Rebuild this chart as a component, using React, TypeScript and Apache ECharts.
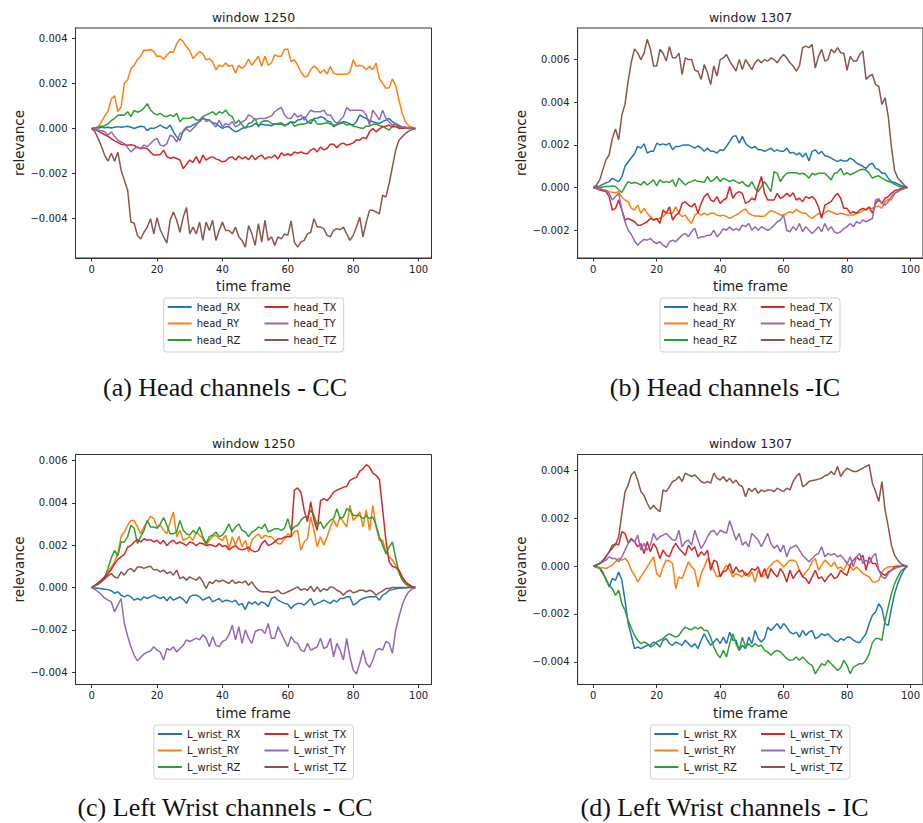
import React, { useEffect, useRef } from "react";
import * as echarts from "echarts";

// ---- values in units of 1e-3 (relevance), frames 0..99 ----
// (a) Head channels - CC (window 1250)
const aRX = [0,0.01,0.02,0.05,0.03,0.05,0.02,0.05,0.08,0.05, 0.07,0.1,0.05,0,0.05,0.1,0.08,-0.1,0.02,0, 0.07,0.15,0.05,0,0.15,-0.15,-0.37,-0.52,-0.1,0.05, 0.07,0.15,0.22,0.3,0.44,0.4,0.37,0.25,0.22,0.1, 0,0.07,0.07,-0.05,-0.15,-0.1,0,0.05,0.07,0.1, 0.22,0.15,0.19,0.15,0.15,0.12,0.19,0.22,0.25,0.15, 0.18,0.3,0.25,0.37,0.4,0.52,0.3,0.22,0.44,0.45, 0.52,0.48,0.33,0.3,0.07,0.18,0.25,0.3,0.27,0.2, 0.15,0.3,0.6,0.5,0.44,0.35,0.3,0.25,0.22,0.3, 0.37,0.44,0.3,0.19,0.1,0.07,0.03,0.01,0,0];
const aRY = [0,0.02,0.05,0.3,0.55,0.75,1.3,1.45,0.75,0.95, 2.0,2.15,2.65,2.8,3.05,3.2,3.48,3.45,3.5,3.4, 3.2,3.2,3.07,3.25,3.4,3.38,3.75,3.97,3.85,3.62, 3.45,3.1,3.26,3.4,3.3,3.04,3.1,2.95,2.6,2.8, 2.74,2.9,2.75,2.8,2.45,2.8,2.65,2.8,3.07,2.8, 3.0,3.2,2.75,3.2,2.8,2.9,3.26,3.2,3.2,3.5, 3.52,2.96,3.05,2.8,2.5,2.3,2.3,2.6,2.77,2.65, 2.44,2.6,2.42,2.74,2.45,2.4,2.4,2.4,2.4,2.5, 3.04,2.75,2.8,2.75,2.6,2.75,2.6,2.9,2.2,2.0, 1.78,1.8,2.2,1.9,1.26,0.67,0.3,0.1,0.05,0];
const aRZ = [0,0.02,0.06,0.1,0.12,0.2,0.35,0.45,0.58,0.6, 0.58,0.74,0.52,0.8,0.72,0.78,0.9,1.1,0.82,0.67, 0.6,0.67,0.55,0.52,0.6,0.52,0.67,0.3,0.45,0.44, 0.45,0.52,0.38,0.36,0.52,0.6,0.66,0.74,0.6,0.74, 0.67,0.81,0.6,0.52,0.22,0.37,0.15,0,0.22,0.27, 0.44,0.07,0.3,0.34,0.33,0.22,0.2,0.19,0.2,0.1, 0.22,0.3,0.1,0.15,0.2,0.19,0.25,0.37,0.4,0.2, 0.19,0.22,0.25,0.2,0.15,0.15,0.22,0.25,0.15,0.19, 0.1,0.07,0.03,0,0.1,0.1,0.18,0.2,0.12,0.1, 0,-0.07,0.1,0.19,0,0.02,0.01,0,0,0];
const aTX = [0,-0.05,-0.12,-0.2,-0.28,-0.35,-0.45,-0.55,-0.62,-0.7, -0.72,-0.74,-0.72,-0.75,-0.85,-0.9,-0.86,-0.9,-1.05,-1.18, -1.18,-1.15,-0.96,-1.25,-1.33,-1.28,-1.33,-1.4,-1.78,-1.6, -1.4,-1.5,-1.25,-1.55,-1.18,-1.4,-1.3,-1.26,-1.35,-1.4, -1.48,-1.44,-1.3,-1.26,-1.4,-1.22,-1.35,-1.26,-1.38,-1.18, -1.38,-1.25,-1.18,-1.36,-1.26,-1.3,-1.18,-1.35,-1.08,-1.2, -1.12,-1.2,-1.04,-1.1,-1.04,-1.1,-1.12,-0.96,-0.89,-1.04, -0.82,-0.95,-0.89,-0.7,-0.7,-0.85,-0.7,-0.65,-0.74,-0.7, -0.64,-0.5,-0.52,-0.4,-0.45,-0.15,0,-0.15,-0.02,0.07, 0.1,0.15,0.07,0.08,0.02,0,0.05,0.02,0.01,0];
const aTY = [0,-0.05,-0.07,-0.1,-0.15,-0.3,-0.15,-0.35,-0.52,-0.6, -0.67,-0.85,-1.04,-0.9,-0.82,-0.89,-0.74,-0.82,-0.67,-0.52, -0.44,-0.74,-0.78,-0.67,-0.3,-0.37,-0.6,-0.22,-0.15,0, -0.15,0,0.15,0.37,0.52,0.3,0.37,0.22,0.07,0.37, 0.07,0.22,0.15,0.3,0.07,0.15,0.3,0.37,0.6,0.52, 0.37,0.44,0.44,0.44,0.5,0.55,0.74,0.85,0.93,0.6, 0.45,0.44,0.67,0.5,0.6,0.37,0.6,0.81,0.74,0.74, 0.74,0.81,0.6,0.6,0.37,0.22,0.37,0.52,0.93,0.8, 0.81,0.81,0.81,0.78,0.6,0.15,0.81,0.6,0.37,0.81, 0.44,0.3,0.15,0.22,0.15,0.07,0.05,0.02,0.01,0];
const aTZ = [0,-0.15,-0.45,-0.8,-1.2,-1.45,-1.1,-1.45,-1.05,-1.85, -2.3,-2.74,-4.15,-4.2,-4.74,-4.9,-4.6,-4.37,-4.0,-4.67, -3.95,-4.5,-4.8,-5.08,-4.07,-3.7,-4.07,-4.6,-3.93,-3.5, -4.67,-4.37,-4.67,-4.15,-4.96,-4.15,-4.52,-4.07,-4.96,-4.52, -4.15,-4.52,-4.52,-4.67,-4.37,-4.8,-4.96,-5.26,-4.3,-4.67, -5.18,-4.22,-5.04,-4.07,-4.96,-4.8,-5.18,-4.8,-4.89,-4.67, -4.74,-4.1,-5.04,-5.26,-5.04,-4.96,-4.67,-4.6,-4.0,-4.37, -4.37,-4.44,-4.74,-4.8,-4.52,-4.44,-4.49,-4.37,-4.67,-4.96, -4.74,-4.37,-3.93,-4.8,-4.15,-3.63,-3.63,-3.7,-3.78,-2.96, -3.04,-2.44,-1.7,-0.96,-0.52,-0.37,-0.22,-0.12,-0.05,0];

// (b) Head channels - IC (window 1307)
const bRX = [0,0.05,0.08,0.15,0.22,0.28,0.44,0.35,0.28,0.5, 1.0,1.2,1.4,1.6,1.93,1.85,2.05,1.62,1.7,1.7, 2.08,2.0,2.05,2.0,2.08,1.77,1.93,1.93,1.98,2.0, 2.0,1.93,1.85,1.96,1.85,1.7,1.85,1.7,1.7,1.62, 1.77,1.74,1.93,2.16,2.4,2.43,2.08,2.4,2.08,1.93, 1.85,1.93,1.77,1.77,1.7,1.77,1.85,1.7,1.77,1.7, 1.7,1.85,1.62,1.65,1.54,1.62,1.43,1.62,1.25,1.7, 1.77,1.58,1.7,1.49,1.46,1.38,1.3,1.22,1.3,1.25, 1.25,1.38,1.3,1.15,1.07,1.0,0.9,1.07,1.15,0.9, 0.85,0.67,0.67,0.44,0.28,0.24,0.17,0.1,0.05,0];
const bRY = [0,-0.02,-0.03,-0.1,-0.14,-0.19,-0.22,-0.24,-0.19,-0.45, -0.58,-0.66,-0.97,-1.05,-0.82,-1.2,-0.97,-1.2,-1.36,-1.52, -1.49,-1.44,-1.36,-1.2,-1.2,-1.2,-0.9,-1.2,-1.36,-1.29, -1.52,-1.68,-1.29,-1.2,-1.29,-1.2,-1.29,-1.2,-1.2,-1.29, -1.33,-1.29,-1.36,-1.44,-1.36,-1.29,-1.2,-1.08,-1.0,-1.2, -1.29,-1.33,-1.33,-1.36,-1.33,-1.2,-1.08,-1.13,-1.2,-1.29, -1.29,-1.2,-1.13,-1.18,-1.02,-1.13,-1.2,-1.2,-1.36,-1.44, -1.33,-1.2,-1.29,-1.2,-1.08,-1.13,-1.2,-1.25,-1.2,-1.24, -1.29,-1.29,-1.29,-1.2,-1.18,-1.08,-1.0,-0.97,-0.97,-0.9, -0.87,-0.97,-0.66,-0.55,-0.58,-0.27,-0.19,-0.1,-0.04,0];
const bRZ = [0,0,0,0.03,0.05,0.05,0.08,0.05,-0.1,-0.23, 0.05,0.28,0.2,0.24,0.2,0.12,0.28,0.12,0.24,0.36, 0.08,0.36,0.24,0.28,0.24,0.36,0.05,0.44,0.28,0.12, 0.24,0.28,0.36,0.28,0.28,0.24,0.52,0.28,0.36,0.52, 0.28,0.44,0.36,0.28,0.36,0.28,0.2,0.28,0.12,0.05, 0.28,-0.03,-0.19,0.05,0.28,0.05,-0.19,0.75,0.67,0.28, 0.52,0.67,0.7,0.7,0.7,0.64,0.67,0.6,0.44,0.67, 0.6,0.67,0.67,0.67,0.52,0.36,0.67,0.7,0.9,0.6, 0.7,0.6,0.67,0.75,0.82,0.86,0.82,0.67,0.44,0.52, 0.55,0.44,0.36,0.3,0.24,0.15,0.08,0.03,0.01,0];
const bTX = [0,-0.05,-0.11,-0.15,-0.19,-0.42,-1.05,-0.97,-0.58,-1.05, -1.52,-1.44,-1.52,-1.6,-1.76,-1.76,-1.68,-1.6,-1.44,-1.52, -1.44,-1.68,-1.05,-1.2,-0.9,-1.52,-1.29,-1.2,-0.74,-0.66, -0.82,-0.9,-0.74,-1.2,-0.74,-0.42,-0.27,-0.58,-0.66,-0.42, -0.74,-0.58,-0.5,0.05,-0.5,-0.27,-0.19,-0.27,-0.74,-0.66, -0.5,-0.58,0.05,0.52,-0.27,-0.58,-0.58,-0.58,-0.27,-0.5, -0.42,-0.27,-0.42,-0.24,-0.58,-0.5,-0.66,-0.42,-0.5,-0.42, -0.58,-0.9,-1.44,-0.82,-0.74,-0.66,-0.42,-0.27,-0.5,-0.97, -0.97,-1.2,-1.13,-1.2,-1.05,-0.97,-1.05,-0.9,-1.2,-0.74, -0.58,-0.74,-0.5,-0.42,-0.27,-0.15,-0.1,-0.05,-0.02,0];
const bTY = [0,-0.05,-0.08,-0.1,-0.14,-0.27,-0.58,-0.42,-0.27,-1.05, -1.6,-2.0,-2.2,-2.5,-2.7,-2.54,-2.43,-2.46,-2.38,-2.54, -2.62,-2.54,-2.7,-2.8,-2.54,-2.46,-2.54,-2.38,-2.23,-2.15, -2.3,-2.07,-1.9,-2.38,-2.3,-2.3,-2.23,-2.23,-2.0,-2.3, -2.15,-1.92,-2.0,-1.83,-2.0,-1.92,-2.0,-1.76,-1.83,-1.68, -2.0,-1.83,-2.0,-1.83,-1.92,-2.0,-1.92,-1.76,-1.6,-1.52, -1.29,-2.0,-2.07,-1.83,-2.0,-1.68,-2.07,-1.83,-2.0,-2.15, -2.0,-1.83,-2.07,-1.68,-2.0,-1.83,-2.07,-2.15,-2.07,-1.92, -1.83,-1.68,-1.83,-1.6,-1.68,-1.52,-1.6,-1.52,-1.45,-0.58, -0.52,-0.74,-0.82,-0.66,-0.42,-0.27,-0.19,-0.1,-0.04,0];
const bTZ = [0,0.12,0.35,0.83,1.3,1.54,2.3,2.75,2.24,3.4, 3.9,5.0,5.9,6.5,6.3,6.0,6.3,6.95,6.5,5.7, 5.7,6.48,6.3,5.93,6.6,6.08,6.08,6.3,5.3,6.08, 6.0,6.0,5.5,5.45,5.07,5.77,5.38,4.83,5.7,5.23, 6.0,6.08,6.24,5.93,5.7,5.46,6.0,5.53,6.0,5.77, 5.53,5.85,6.0,5.85,6.0,5.93,6.08,6.0,5.85,6.08, 6.24,6.08,5.85,5.7,5.46,5.7,6.56,6.63,6.56,6.7, 5.6,6.15,6.48,5.93,6.0,6.48,6.32,6.56,6.32,6.3, 5.5,6.15,5.93,5.93,6.24,6.4,5.07,5.23,5.3,4.83, 4.75,3.9,4.2,3.34,1.9,0.8,0.45,0.28,0.12,0];

// (c) Left Wrist channels - CC (window 1250)
const cRX = [0,-0.02,-0.04,-0.06,-0.08,-0.1,-0.15,-0.28,-0.2,-0.36, -0.44,-0.36,-0.44,-0.6,-0.52,-0.6,-0.44,-0.52,-0.44,-0.36, -0.44,-0.52,-0.44,-0.63,-0.44,-0.6,-0.52,-0.44,-0.56,-0.75, -0.44,-0.36,-0.36,-0.44,-0.6,-0.52,-0.44,-0.68,-0.6,-0.52, -0.68,-0.6,-0.63,-0.68,-0.6,-0.83,-0.75,-1.04,-0.68,-0.79, -0.68,-0.83,-0.68,-0.75,-0.91,-0.52,-0.44,-0.6,-0.68,-0.75, -0.79,-1.0,-0.83,-0.75,-0.75,-0.83,-0.68,-0.52,-0.83,-0.75, -0.68,-0.6,-0.68,-0.75,-0.6,-0.68,-0.52,-0.52,-0.44,-0.44, -0.83,-0.75,-0.6,-0.52,-0.47,-0.44,-0.44,-0.44,-0.6,-0.36, -0.28,-0.13,-0.1,-0.06,-0.04,-0.02,-0.01,0,0,0];
const cRY = [0,0.1,0.18,0.28,0.4,0.72,0.97,1.2,1.6,2.4, 2.62,2.94,3.17,3.15,2.86,2.54,2.86,3.1,3.36,3.25, 2.86,2.94,2.7,2.54,3.1,3.57,2.4,2.7,2.23,2.3, 2.4,2.23,2.62,2.47,2.3,2.0,2.23,2.42,2.47,2.3, 2.23,2.47,1.84,2.4,2.0,2.42,1.92,2.23,1.68,2.23, 2.4,2.54,2.3,2.47,2.4,2.4,2.23,2.07,2.07,2.3, 2.54,2.4,2.62,2.7,1.76,2.15,2.3,3.33,2.7,1.92, 2.4,2.0,2.4,2.86,3.2,2.86,3.33,3.1,2.86,3.88, 3.17,3.33,3.57,2.86,3.65,2.7,3.88,2.86,2.23,2.23, 1.68,1.45,1.3,1.05,0.74,0.42,0.25,0.11,0.04,0];
const cRZ = [0,0.1,0.22,0.35,0.5,0.9,1.4,1.75,1.5,2.15, 2.15,2.4,2.94,2.8,2.07,2.4,2.7,3.17,2.86,2.86, 2.8,3.0,3.3,2.94,2.54,2.54,2.62,3.17,2.7,2.54, 2.47,2.7,2.54,2.86,2.4,2.07,2.4,2.47,2.62,2.4, 2.47,2.7,3.0,2.62,2.86,3.0,2.7,2.62,2.4,2.62, 2.7,2.86,2.78,3.0,2.62,2.7,2.78,2.78,2.7,2.8, 3.25,2.7,2.86,2.94,3.17,3.33,3.33,3.65,3.4,2.94, 3.1,2.78,3.0,3.17,3.25,3.72,3.25,3.33,3.72,3.65, 3.4,3.4,3.4,3.25,3.4,3.25,3.33,2.94,2.4,2.0, 1.6,1.9,2.15,1.4,0.7,0.35,0.16,0.07,0.02,0];
const cTX = [0,0.1,0.22,0.35,0.5,0.65,0.85,1.1,1.33,1.45, 1.57,1.9,1.98,2.15,2.26,2.15,2.3,2.23,2.26,2.15, 2.23,2.07,2.23,1.98,2.15,2.23,2.07,2.15,2.07,1.98, 2.15,2.1,1.98,2.1,2.07,1.98,2.03,1.98,1.93,2.07, 1.93,1.98,1.78,1.9,1.98,1.82,1.78,1.82,1.9,1.74, 1.68,1.74,2.07,2.23,1.98,2.05,2.15,2.3,2.3,2.38, 2.4,2.4,4.6,4.7,4.5,3.65,3.1,4.04,3.17,2.7, 4.1,4.2,4.1,4.27,4.5,4.6,4.66,4.74,4.77,5.06, 5.14,5.2,5.5,5.6,5.8,5.68,5.4,5.3,5.1,3.7, 2.23,1.2,1.0,0.94,0.82,0.5,0.27,0.15,0.05,0];
const cTY = [0,-0.09,-0.2,-0.35,-0.5,-0.6,-0.68,-1.15,-0.83,-0.52, -1.7,-2.3,-2.8,-3.2,-3.46,-3.3,-3.14,-3.05,-3.0,-2.8, -2.96,-3.05,-3.42,-2.88,-2.96,-2.8,-3.05,-2.88,-2.73,-2.47, -2.55,-2.47,-2.39,-2.47,-2.23,-2.39,-2.8,-2.32,-2.73,-2.8, -2.55,-2.47,-2.23,-1.78,-2.47,-1.85,-2.64,-2.0,-2.39,-2.64, -2.09,-2.0,-2.0,-2.17,-1.7,-2.4,-2.4,-1.85,-2.17,-2.5, -2.8,-2.32,-2.56,-2.64,-2.96,-3.03,-2.64,-2.96,-2.88,-2.8, -2.4,-2.88,-2.8,-2.4,-3.27,-2.64,-2.96,-3.42,-2.4,-3.27, -3.9,-4.08,-3.58,-2.96,-3.58,-3.77,-3.42,-2.96,-2.88,-2.96, -2.55,-2.64,-3.1,-2.0,-1.38,-0.83,-0.44,-0.2,-0.08,0];
const cTZ = [0,0.08,0.15,0.28,0.42,0.55,0.66,0.5,0.45,0.74, 0.58,0.82,0.9,0.74,0.97,0.97,0.9,0.97,1.0,0.82, 0.85,0.74,0.82,0.66,0.74,0.58,0.82,0.42,0.5,0.35, 0.5,0.42,0.35,0.5,0.27,-0.05,0.27,0.19,0.35,0.27, 0.35,0.27,0.19,0.35,0.19,0.27,0.22,0.31,0.11,0.27, 0.03,-0.13,-0.2,-0.2,-0.2,-0.24,-0.2,-0.13,-0.28,-0.28, -0.2,-0.13,-0.05,0.03,-0.13,-0.05,-0.13,0.06,-0.2,0.03, -0.2,-0.05,-0.13,0.03,0,-0.13,-0.2,-0.36,-0.2,-0.13, -0.25,-0.2,-0.13,-0.13,-0.2,-0.13,-0.2,-0.36,-0.25,-0.16, -0.05,-0.05,0,0,0,0,0,0,0,0];

// (d) Left Wrist channels - IC (window 1307)
const dRX = [0,-0.05,-0.1,-0.31,-0.52,-0.87,-0.52,-0.59,-0.24,-0.59, -1.43,-2.4,-2.9,-3.45,-3.38,-3.45,-3.38,-3.31,-3.31,-3.17, -3.24,-3.38,-3.1,-3.03,-3.24,-3.31,-3.17,-3.24,-3.31,-3.1, -3.24,-3.38,-3.24,-3.45,-3.1,-2.83,-3.1,-3.31,-3.17,-3.03, -3.24,-2.97,-3.24,-2.76,-3.1,-3.1,-3.52,-3.31,-3.45,-2.97, -3.24,-2.69,-3.03,-3.17,-3.03,-2.55,-2.69,-2.55,-2.4,-2.62, -2.4,-2.55,-2.76,-2.83,-2.76,-2.97,-2.69,-2.9,-2.76,-2.69, -3.03,-2.97,-2.83,-2.9,-2.83,-2.97,-3.1,-3.17,-3.03,-3.1, -2.97,-2.97,-3.1,-3.17,-3.2,-3.0,-2.83,-2.4,-2.05,-1.92, -1.57,-1.78,-2.4,-2.48,-1.78,-1.15,-0.73,-0.4,-0.15,0];
const dRY = [0,-0.05,-0.1,-0.06,-0.1,-0.03,0.04,0.18,0.32,0.25, 0.32,0.18,-0.17,-0.38,-0.66,-0.45,-0.24,-0.03,0.18,0.39, -0.31,-0.45,-0.03,0.25,0.22,0.11,-0.94,-0.45,-0.52,-0.17, 0.18,-0.03,-0.17,-0.87,-0.31,-0.03,0.32,0.11,-0.17,-0.45, -0.38,-0.17,0.04,-0.17,-0.45,-0.31,-0.38,-0.45,-0.24,-0.45, -0.24,-0.66,-0.17,-0.45,-0.38,-0.1,0.04,0.18,0.25,0.11, -0.03,0.11,0.25,0.25,0.18,-0.17,-0.45,-0.24,-0.1,0.18, 0.32,-0.17,0.04,0.25,0.14,-0.03,0.18,-0.1,-0.03,-0.17, 0.11,-0.03,-0.17,-0.03,-0.17,-0.31,-0.38,-0.45,-0.66,-0.66, -0.6,-0.24,-0.1,-0.03,-0.02,0,0,0,0,0];
const dRZ = [0,-0.02,-0.06,-0.24,-0.58,-0.8,-0.94,-1.22,-1.0,-1.57, -1.85,-2.27,-2.6,-2.9,-3.1,-3.24,-3.17,-3.24,-3.38,-3.31, -3.17,-3.1,-3.03,-2.9,-2.83,-2.9,-2.97,-2.9,-2.69,-2.55, -2.62,-2.66,-2.55,-2.62,-2.55,-2.69,-2.69,-2.97,-3.38,-3.66, -3.83,-3.52,-3.8,-3.24,-2.83,-3.24,-3.52,-2.97,-3.38,-3.24, -3.38,-3.24,-3.35,-3.31,-3.52,-3.59,-3.73,-3.59,-3.52,-3.59, -3.73,-3.87,-3.94,-3.92,-3.8,-3.94,-3.8,-3.94,-4.08,-4.15, -4.5,-4.29,-4.08,-4.15,-3.94,-4.08,-4.22,-4.36,-4.25,-3.94, -4.15,-4.5,-4.22,-4.15,-4.08,-4.08,-3.94,-3.66,-3.2,-3.03, -3.03,-3.1,-2.27,-1.7,-1.15,-0.73,-0.45,-0.2,-0.1,0];
const dTX = [0,0.05,0.11,0.18,0.39,0.6,0.74,0.95,0.88,1.44, 1.37,0.98,1.16,1.02,0.81,0.95,0.53,1.02,0.6,0.95, 0.74,0.32,0.67,0.46,0.39,0.74,0.95,0.74,0.6,0.46, 0.88,0.67,0.81,0.39,0.6,0.46,0.67,-0.17,0.25,0.18, -0.45,-0.24,-0.17,0.11,-0.31,-0.03,-0.24,-0.17,-0.38,-0.31, -0.1,-0.17,-0.03,-0.45,-0.1,-0.52,-0.1,-0.31,-0.45,-0.1, -0.31,-0.66,-0.17,-0.52,-0.31,-0.17,-0.45,-0.52,-0.73,-0.45, -0.17,-0.52,-0.45,-0.66,-0.45,-0.31,-0.52,-0.45,-0.17,-0.3, -0.38,0.04,0.25,0.39,0.25,0.46,-0.17,0.39,0.11,0.11, -0.17,-0.31,-0.38,-0.24,-0.17,-0.03,0,0,0,0];
const dTY = [0,0.05,0.11,0.18,0.25,0.39,0.32,0.32,0.18,0.39, 0.67,0.95,1.09,1.02,1.3,0.67,0.95,0.67,0.88,1.37, 1.09,1.23,1.3,1.37,1.23,1.09,1.09,1.5,0.81,1.02, 1.09,0.88,1.5,1.09,0.74,0.95,1.23,1.44,1.5,1.3, 1.5,1.44,1.37,1.9,1.5,1.09,1.37,0.88,1.02,0.81, 1.37,1.23,1.09,0.81,1.09,1.37,0.95,0.74,0.88,0.6, 0.88,0.39,0.74,0.81,0.88,0.67,0.46,0.32,0.18,0.32, 0.46,0.53,0.81,0.39,0.53,0.46,0.53,0.39,0.46,0.3, 0.11,0.39,-0.03,0.39,0.53,0.11,0.25,0.11,0.39,0.53, -0.17,-0.45,-0.52,-0.31,-0.17,-0.1,-0.05,-0.02,0,0];
const dTZ = [0,0.05,0.11,0.25,0.4,0.6,0.88,0.88,1.23,2.2, 3.1,3.4,3.82,3.96,3.6,3.12,2.95,2.63,2.38,2.55, 2.38,2.28,3.19,3.12,3.33,3.54,3.6,3.75,3.54,3.89, 3.82,3.75,3.82,3.68,3.54,3.47,3.54,3.47,3.89,3.68, 3.6,3.75,3.54,3.68,3.47,3.6,3.4,3.33,2.9,3.26, 3.12,3.26,3.05,3.19,3.12,3.19,3.19,3.12,3.26,3.19, 3.12,3.26,3.19,3.54,3.75,3.89,3.33,3.4,3.54,3.58, 3.6,3.64,3.68,3.78,3.82,3.96,3.82,4.17,3.75,3.96, 4.1,4.03,3.96,3.96,4.03,4.1,4.17,4.24,3.47,3.12, 2.7,3.54,2.35,1.65,0.88,0.46,0.25,0.1,0.04,0];

const headNames = ["head_RX", "head_RY", "head_RZ", "head_TX", "head_TY", "head_TZ"];
const wristNames = ["L_wrist_RX", "L_wrist_RY", "L_wrist_RZ", "L_wrist_TX", "L_wrist_TY", "L_wrist_TZ"];
const titles = ["window 1250", "window 1307", "window 1250", "window 1307"];
const captions = ["(a) Head channels - CC", "(b) Head channels -IC", "(c) Left Wrist channels - CC", "(d) Left Wrist channels - IC"];
const xTicks = [0, 20, 40, 60, 80, 100];
const yTicksA = [-0.004, -0.002, 0, 0.002, 0.004];
const yTicksB = [-0.002, 0, 0.002, 0.004, 0.006];
const yTicksC = [-0.004, -0.002, 0, 0.002, 0.004, 0.006];
const yTicksD = [-0.004, -0.002, 0, 0.002, 0.004];

const COLORS = ["#1f77b4", "#ff7f0e", "#2ca02c", "#d62728", "#9467bd", "#8c564b"];
const SANS = "'DejaVu Sans', sans-serif";
const SERIF = "'Liberation Serif', serif";

// layout (pixels)
const panels = [
  { left: 75.5, top: 28, width: 356, height: 230, ymin: -0.00574, ymax: 0.00445, yTicks: yTicksA, names: headNames, series: [aRX, aRY, aRZ, aTX, aTY, aTZ], legL: 163.7, legW: 180, legT: 298, textW: 43.8, capY: 387 },
  { left: 577.6, top: 28, width: 345.4, height: 230, ymin: -0.0033, ymax: 0.00748, yTicks: yTicksB, names: headNames, series: [bRX, bRY, bRZ, bTX, bTY, bTZ], legL: 660, legW: 180, legT: 298, textW: 43.8, capY: 387 },
  { left: 75.5, top: 454.5, width: 356, height: 230, ymin: -0.00458, ymax: 0.00628, yTicks: yTicksC, names: wristNames, series: [cRX, cRY, cRZ, cTX, cTY, cTZ], legL: 153.9, legW: 199.5, legT: 725, textW: 53.6, capY: 807 },
  { left: 577.6, top: 454.5, width: 345.4, height: 230, ymin: -0.00495, ymax: 0.00467, yTicks: yTicksD, names: wristNames, series: [dRX, dRY, dRZ, dTX, dTY, dTZ], legL: 650.4, legW: 199.5, legT: 725, textW: 53.6, capY: 807 },
];
const capX = [225, 725, 225, 724.5];

function fmtY(v: number) {
  if (Math.abs(v) < 1e-12) return "0.000";
  return (v < 0 ? "\u2212" : "") + Math.abs(v).toFixed(3);
}

export default function App() {
  const ref = useRef<HTMLDivElement>(null);
  useEffect(() => {
    document.body.style.margin = "0";
    document.body.style.background = "#ffffff";
    const chart = echarts.init(ref.current as HTMLDivElement, null, { renderer: "svg" });

    const grid: any[] = [];
    const xAxis: any[] = [];
    const yAxis: any[] = [];
    const series: any[] = [];
    const legend: any[] = [];
    const graphic: any[] = [];

    panels.forEach((p, pi) => {
      grid.push({ left: p.left, top: p.top, width: p.width, height: p.height, show: true, borderColor: "#333", borderWidth: 1, backgroundColor: "transparent", containLabel: false });
      xAxis.push({
        type: "value", gridIndex: pi, min: -4.95, max: 103.95,
        name: "time frame", nameLocation: "middle", nameGap: 21,
        nameTextStyle: { fontSize: 13.5, fontFamily: SANS, color: "#222" },
        axisLine: { show: true, onZero: false, lineStyle: { color: "#333", width: 1 } },
        axisTick: { show: true, length: 3.5, customValues: xTicks, lineStyle: { color: "#333" } },
        axisLabel: { customValues: xTicks, fontSize: 10, fontFamily: SANS, color: "#222", margin: 6 },
        splitLine: { show: false },
      });
      yAxis.push({
        type: "value", gridIndex: pi, min: p.ymin, max: p.ymax,
        name: "relevance", nameLocation: "middle", nameGap: 50,
        nameTextStyle: { fontSize: 13.5, fontFamily: SANS, color: "#222" },
        axisLine: { show: true, onZero: false, lineStyle: { color: "#333", width: 1 } },
        axisTick: { show: true, length: 3.5, customValues: p.yTicks, lineStyle: { color: "#333" } },
        axisLabel: { customValues: p.yTicks, fontSize: 10, fontFamily: SANS, color: "#222", margin: 8, formatter: fmtY },
        splitLine: { show: false },
      });
      p.series.forEach((arr, si) => {
        series.push({
          type: "line", name: p.names[si], xAxisIndex: pi, yAxisIndex: pi,
          data: arr.map((v, i) => [i, v / 1000]),
          showSymbol: false, symbol: "none", silent: true,
          lineStyle: { color: COLORS[si], width: 1.5 },
          itemStyle: { color: COLORS[si] },
          z: 2 + si,
        });
      });
      const legCommon = {
        orient: "vertical", padding: 0, itemGap: 4.5, itemWidth: 24, itemHeight: 2, icon: "rect",
        textStyle: { fontSize: 10, fontFamily: SANS, color: "#222", lineHeight: 12 },
        selectedMode: false, z: 10,
      };
      legend.push({ ...legCommon, left: p.legL + 4, top: p.legT + 3, data: p.names.slice(0, 3) });
      legend.push({ ...legCommon, left: p.legL + 33 + p.textW + 24, top: p.legT + 3, data: p.names.slice(3, 6) });
      graphic.push({
        type: "rect", z: 1,
        shape: { x: p.legL, y: p.legT, width: p.legW, height: 54, r: 3 },
        style: { fill: "rgba(255,255,255,0.8)", stroke: "#d0d0d0", lineWidth: 1 },
      });
      graphic.push({
        type: "text", z: 10, x: p.left + p.width / 2 + (pi % 2 === 1 ? 0.2 : 0), y: p.top - 11,
        style: { text: titles[pi], fontSize: 12.5, fontFamily: SANS, fill: "#222", align: "center", verticalAlign: "middle", textAlign: "center", textVerticalAlign: "middle" },
      });
      graphic.push({
        type: "text", z: 10, x: capX[pi], y: p.capY,
        style: { text: captions[pi], fontSize: 26, fontFamily: SERIF, fill: "#111", align: "center", verticalAlign: "middle", textAlign: "center", textVerticalAlign: "middle" },
      });
    });

    chart.setOption({
      animation: false,
      backgroundColor: "#ffffff",
      textStyle: { fontFamily: SANS },
      grid, xAxis, yAxis, series, legend, graphic,
    });
    return () => chart.dispose();
  }, []);
  return <div ref={ref} style={{ width: 923, height: 823 }} />;
}
